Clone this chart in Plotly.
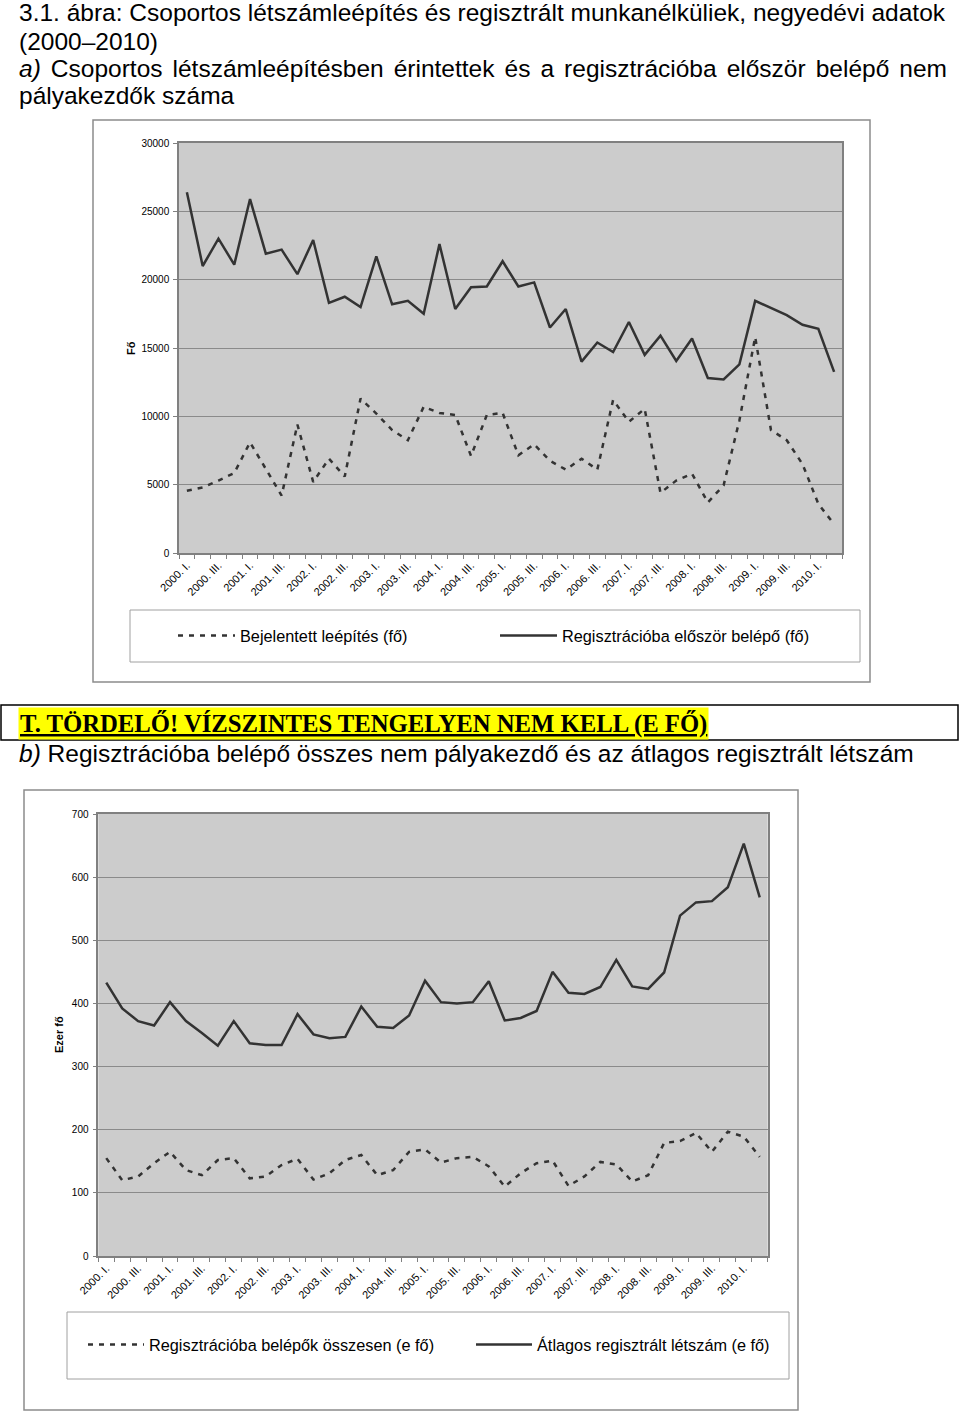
import plotly.graph_objects as go

W, H = 960, 1413


def fx(x):
    return x / W


def fy(y):
    return 1 - y / H


# ---------------- data ----------------
years = [2000, 2001, 2002, 2003, 2004, 2005, 2006, 2007, 2008, 2009, 2010]
quarters = ["I", "II", "III", "IV"]
categories = [f"{y}. {q}." for y in years for q in quarters][:42]
tick_labels = [c if i % 2 == 0 else "" for i, c in enumerate(categories)]

# chart a) (fő)
bejelentett_leepites = [4550, 4800, 5300, 5850, 8100, 6100, 4200, 9400, 5200, 6900,
                        5600, 11300, 10200, 9000, 8250, 10700, 10250, 10100, 7100, 10100,
                        10250, 7150, 7950, 6750, 6100, 6900, 6100, 11200, 9600, 10550,
                        4400, 5300, 5800, 3700, 4950, 9700, 15800, 9000, 8250, 6500,
                        3600, 2100]
elso_belepo = [26400, 21000, 23000, 21100, 25900, 21900, 22200, 20400, 22900, 18300,
               18750, 18000, 21700, 18200, 18450, 17500, 22600, 17850, 19450, 19500,
               21350, 19500, 19800, 16500, 17850, 14000, 15400, 14700, 16900, 14500,
               15900, 14050, 15700, 12800, 12700, 13800, 18450, 17950, 17400, 16700,
               16400, 13250]

# chart b) (ezer fő)
belepok_osszesen = [155, 120, 126, 147, 165, 136, 128, 152, 155, 123,
                    126, 144, 154, 121, 131, 152, 160, 128, 136, 165,
                    169, 148, 155, 157, 142, 110, 131, 147, 151, 111,
                    126, 149, 145, 118, 128, 179, 182, 195, 165, 197,
                    189, 157]
atlagos_letszam = [433, 392, 372, 365, 402, 372, 353, 333, 372, 337,
                   334, 334, 383, 351, 345, 347, 395, 363, 361, 381,
                   436, 402, 400, 402, 435, 373, 377, 388, 450, 417,
                   415, 426, 469, 427, 423, 449, 539, 560, 562, 584,
                   653, 568]

ya_ticks = [0, 5000, 10000, 15000, 20000, 25000, 30000]
ya_labels = ["0", "5000", "10000", "15000", "20000", "25000", "30000"]
yb_ticks = [0, 100, 200, 300, 400, 500, 600, 700]
yb_labels = ["0", "100", "200", "300", "400", "500", "600", "700"]

SANS = "Arial, 'Liberation Sans', sans-serif"
SERIF = "'Times New Roman', 'Liberation Serif', serif"
LINE_C = "#333333"
DASH = "5px,6px"

fig = go.Figure()

fig.add_trace(go.Scatter(x=categories, y=bejelentett_leepites, mode="lines",
                         name="Bejelentett leépítés (fő)",
                         line=dict(color=LINE_C, width=2.5, dash=DASH),
                         xaxis="x", yaxis="y", legend="legend"))
fig.add_trace(go.Scatter(x=categories, y=elso_belepo, mode="lines",
                         name="Regisztrációba először belépő (fő)",
                         line=dict(color=LINE_C, width=2.5),
                         xaxis="x", yaxis="y", legend="legend"))
fig.add_trace(go.Scatter(x=categories, y=belepok_osszesen, mode="lines",
                         name="Regisztrációba belépők összesen (e fő)",
                         line=dict(color=LINE_C, width=2.5, dash=DASH),
                         xaxis="x2", yaxis="y2", legend="legend2"))
fig.add_trace(go.Scatter(x=categories, y=atlagos_letszam, mode="lines",
                         name="Átlagos regisztrált létszám (e fő)",
                         line=dict(color=LINE_C, width=2.5),
                         xaxis="x2", yaxis="y2", legend="legend2"))

xcommon = dict(type="category", categoryorder="array", categoryarray=categories,
               range=[-0.5, len(categories) - 0.5],
               tickmode="array", tickvals=categories, ticktext=tick_labels,
               tickangle=-45, tickson="boundaries", ticks="outside", ticklen=4,
               tickcolor="#808080", tickwidth=1,
               showline=True, linecolor="#808080", linewidth=1.5, mirror=True,
               showgrid=False, zeroline=False, automargin=False,
               tickfont=dict(family=SANS, size=11, color="#000000"))
ycommon = dict(showgrid=True, gridcolor="#8a8a8a", gridwidth=1.2,
               ticks="outside", ticklen=4, tickcolor="#808080",
               showline=True, linecolor="#808080", linewidth=1.5, mirror=True,
               zeroline=False, automargin=False, ticklabelstandoff=2,
               tickfont=dict(family=SANS, size=10, color="#000000"))

fig.update_layout(
    width=W, height=H, autosize=False,
    margin=dict(l=0, r=0, t=0, b=0),
    paper_bgcolor="white", plot_bgcolor="#cccccc",
    font=dict(family=SANS, color="#000000"),
    xaxis=dict(xcommon, domain=[fx(179), fx(842)], anchor="y"),
    yaxis=dict(ycommon, domain=[fy(553), fy(143)], anchor="x",
               range=[0, 30000], tickmode="array", tickvals=ya_ticks, ticktext=ya_labels),
    xaxis2=dict(xcommon, domain=[fx(98.3), fx(767.7)], anchor="y2"),
    yaxis2=dict(ycommon, domain=[fy(1256), fy(814)], anchor="x2",
                range=[0, 700], tickmode="array", tickvals=yb_ticks, ticktext=yb_labels),
    legend=dict(orientation="h", x=fx(173), y=fy(636), xanchor="left", yanchor="middle",
                bgcolor="rgba(0,0,0,0)", borderwidth=0, itemwidth=57,
                entrywidth=250, entrywidthmode="pixels",
                font=dict(family=SANS, size=16.3, color="#000000"),
                traceorder="normal"),
    legend2=dict(orientation="h", x=fx(83), y=fy(1345), xanchor="left", yanchor="middle",
                 bgcolor="rgba(0,0,0,0)", borderwidth=0, itemwidth=56,
                 entrywidth=317, entrywidthmode="pixels",
                 font=dict(family=SANS, size=16.3, color="#000000"),
                 traceorder="normal"),
    showlegend=True,
)

shapes = []
# chart frames
shapes.append(dict(type="rect", xref="paper", yref="paper", x0=fx(93), x1=fx(870),
                   y0=fy(682), y1=fy(120), line=dict(color="#8c8c8c", width=1.5),
                   fillcolor="rgba(0,0,0,0)", layer="below"))
shapes.append(dict(type="rect", xref="paper", yref="paper", x0=fx(24), x1=fx(798),
                   y0=fy(1410), y1=fy(790), line=dict(color="#8c8c8c", width=1.5),
                   fillcolor="rgba(0,0,0,0)", layer="below"))
# legend boxes
shapes.append(dict(type="rect", xref="paper", yref="paper", x0=fx(130), x1=fx(860),
                   y0=fy(662), y1=fy(610), line=dict(color="#a0a0a0", width=1),
                   fillcolor="white", layer="below"))
shapes.append(dict(type="rect", xref="paper", yref="paper", x0=fx(67), x1=fx(789),
                   y0=fy(1379), y1=fy(1312), line=dict(color="#a0a0a0", width=1),
                   fillcolor="white", layer="below"))
# typesetter note box
shapes.append(dict(type="rect", xref="paper", yref="paper", x0=fx(1), x1=fx(958),
                   y0=fy(740), y1=fy(705), line=dict(color="#000000", width=1.5),
                   fillcolor="rgba(0,0,0,0)", layer="below"))
fig.update_layout(shapes=shapes)

gap3 = " <span style='font-size:11.6px'>\u00a0</span>"
line3_words = ["<i>a)</i>", "Csoportos", "létszámleépítésben", "érintettek", "és", "a",
               "regisztrációba", "először", "belépő", "nem"]

annotations = [
    dict(text="3.1. ábra: Csoportos létszámleépítés és regisztrált munkanélküliek, negyedévi adatok",
         x=fx(17), y=fy(13)),
    dict(text="(2000–2010)", x=fx(17), y=fy(41)),
    dict(text=gap3.join(line3_words), x=fx(17), y=fy(68)),
    dict(text="pályakezdők száma", x=fx(17), y=fy(95)),
    dict(text="<i>b)</i> Regisztrációba belépő összes nem pályakezdő és az átlagos regisztrált létszám",
         x=fx(17), y=fy(753)),
]
anns = []
for a in annotations:
    anns.append(dict(a, xref="paper", yref="paper", xanchor="left", yanchor="middle",
                     showarrow=False, font=dict(family=SANS, size=24.5, color="#000000")))

anns.append(dict(text="<b><u>T. TÖRDELŐ! VÍZSZINTES TENGELYEN NEM KELL (E FŐ)</u></b>",
                 x=fx(18), y=fy(723), xref="paper", yref="paper", xanchor="left",
                 yanchor="middle", showarrow=False, bgcolor="#ffff00", borderpad=1,
                 font=dict(family=SERIF, size=24.7, color="#000000")))
anns.append(dict(text="<b>Fő</b>", x=fx(131), y=fy(348), xref="paper", yref="paper",
                 textangle=-90, showarrow=False, xanchor="center", yanchor="middle",
                 font=dict(family=SANS, size=11, color="#000000")))
anns.append(dict(text="<b>Ezer fő</b>", x=fx(59), y=fy(1035), xref="paper", yref="paper",
                 textangle=-90, showarrow=False, xanchor="center", yanchor="middle",
                 font=dict(family=SANS, size=11, color="#000000")))
fig.update_layout(annotations=anns)

fig.write_html("out.html")
